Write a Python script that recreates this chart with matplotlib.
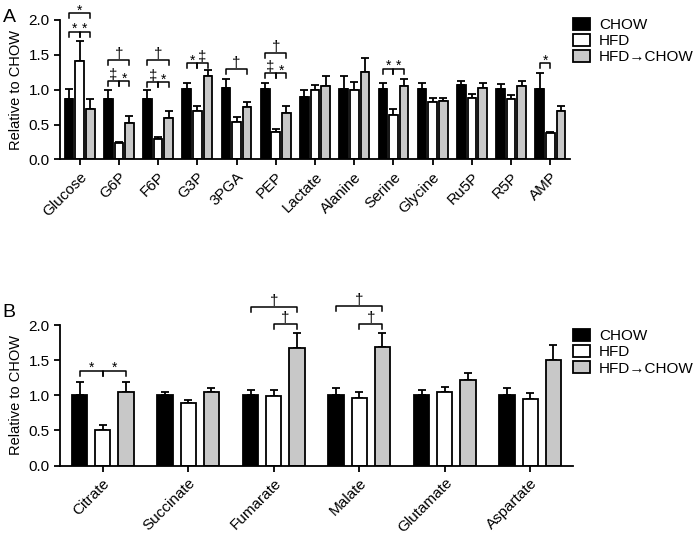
import matplotlib
matplotlib.use("Agg")
import matplotlib.pyplot as plt
from matplotlib.patches import Patch
import numpy as np

plt.rcParams['font.family'] = ['Liberation Sans', 'DejaVu Sans']
plt.rcParams['font.size'] = 11

groups = ['CHOW', 'HFD', 'HFD\u2192CHOW']
colors = ['black', 'white', '#c8c8c8']

# Panel A
metab_a = ['Glucose', 'G6P', 'F6P', 'G3P', '3PGA', 'PEP', 'Lactate', 'Alanine',
           'Serine', 'Glycine', 'Ru5P', 'R5P', 'AMP']
chow_a = [0.87, 0.87, 0.87, 1.01, 1.02, 1.01, 0.90, 1.01, 1.01, 1.01, 1.07, 1.01, 1.01]
chow_a_err = [0.14, 0.13, 0.12, 0.09, 0.13, 0.08, 0.10, 0.18, 0.09, 0.08, 0.05, 0.07, 0.23]
hfd_a = [1.41, 0.23, 0.30, 0.70, 0.54, 0.40, 0.99, 0.99, 0.64, 0.82, 0.88, 0.86, 0.38]
hfd_a_err = [0.29, 0.02, 0.02, 0.07, 0.07, 0.04, 0.08, 0.12, 0.09, 0.06, 0.06, 0.07, 0.01]
rev_a = [0.73, 0.53, 0.60, 1.20, 0.75, 0.67, 1.05, 1.25, 1.05, 0.84, 1.03, 1.06, 0.69]
rev_a_err = [0.14, 0.09, 0.09, 0.08, 0.07, 0.10, 0.14, 0.20, 0.11, 0.04, 0.07, 0.07, 0.08]
# (group, bar from, bar to, level, mark)
sig_a = [(0, 0, 2, 2.10, '*'), (0, 0, 1, 1.83, '*'), (0, 1, 2, 1.83, '*'),
         (1, 0, 2, 1.43, '\u2020'), (1, 0, 1, 1.12, '\u2021'), (1, 1, 2, 1.12, '*'),
         (2, 0, 2, 1.42, '\u2020'), (2, 0, 1, 1.11, '\u2021'), (2, 1, 2, 1.11, '*'),
         (3, 0, 1, 1.38, '*'), (3, 1, 2, 1.38, '\u2021'),
         (4, 0, 2, 1.30, '\u2020'),
         (5, 0, 2, 1.53, '\u2020'), (5, 0, 1, 1.24, '\u2021'), (5, 1, 2, 1.24, '*'),
         (8, 0, 1, 1.30, '*'), (8, 1, 2, 1.30, '*'),
         (12, 0, 1, 1.38, '*')]

# Panel B
metab_b = ['Citrate', 'Succinate', 'Fumarate', 'Malate', 'Glutamate', 'Aspartate']
chow_b = [1.01, 1.00, 1.00, 1.01, 1.00, 1.00]
chow_b_err = [0.18, 0.05, 0.08, 0.09, 0.08, 0.11]
hfd_b = [0.51, 0.89, 0.99, 0.96, 1.04, 0.95]
hfd_b_err = [0.06, 0.04, 0.09, 0.08, 0.08, 0.08]
rev_b = [1.05, 1.05, 1.67, 1.69, 1.22, 1.50]
rev_b_err = [0.14, 0.05, 0.21, 0.20, 0.10, 0.22]
sig_b = [(0, 0, 1, 1.35, '*'), (0, 1, 2, 1.35, '*'),
         (2, 0, 2, 2.25, '\u2020'), (2, 1, 2, 2.01, '\u2020'),
         (3, 0, 2, 2.27, '\u2020'), (3, 1, 2, 2.02, '\u2020')]


def draw_panel(ax, names, vals, errs, sigs, width, offs):
    x = np.arange(len(names))
    for k in range(3):
        ax.bar(x + offs[k], vals[k], width, color=colors[k], edgecolor='black',
               linewidth=1.3, zorder=2)
        ax.errorbar(x + offs[k], vals[k], yerr=[np.zeros(len(names)), errs[k]],
                    fmt='none', ecolor='black', elinewidth=1.3, capsize=3,
                    capthick=1.3, zorder=1)
    for g, i, j, y, s in sigs:
        x1 = g + offs[i]
        x2 = g + offs[j]
        h = 0.07
        ax.plot([x1, x1, x2, x2], [y - h, y, y, y - h], color='black', lw=1.1,
                clip_on=False)
        # the star glyph sits high, daggers sit on the baseline
        dy = -0.02 if s == '*' else 0.03
        ax.text((x1 + x2) / 2, y + dy, s, ha='center', va='baseline',
                fontsize=10 if s == '*' else 11)
    ax.set_xlim(-0.5, len(names) - 0.5)
    ax.set_ylim(0, 2.0)
    ax.set_yticks([0, 0.5, 1.0, 1.5, 2.0])
    ax.set_yticklabels(['0.0', '0.5', '1.0', '1.5', '2.0'])
    ax.set_xticks(x)
    ax.set_xticklabels(names, rotation=45, ha='right', rotation_mode='anchor')
    ax.spines['top'].set_visible(False)
    ax.spines['right'].set_visible(False)
    ax.spines['left'].set_linewidth(1.3)
    ax.spines['bottom'].set_linewidth(1.3)
    ax.tick_params(length=4, width=1.3, direction='out', labelsize=11)
    ax.set_ylabel('Relative to CHOW', fontsize=10.5)


fig = plt.figure(figsize=(6.97, 5.33), dpi=100)

ax1 = fig.add_axes([0.0861, 0.7008, 0.7317, 0.2617])
draw_panel(ax1, metab_a, [chow_a, hfd_a, rev_a], [chow_a_err, hfd_a_err, rev_a_err],
           sig_a, 0.22, [-0.27, 0, 0.27])

ax2 = fig.add_axes([0.0861, 0.1266, 0.736, 0.2636])
draw_panel(ax2, metab_b, [chow_b, hfd_b, rev_b], [chow_b_err, hfd_b_err, rev_b_err],
           sig_b, 0.18, [-0.27, 0, 0.27])

handles = [Patch(facecolor=c, edgecolor='black', linewidth=1.3) for c in colors]
for top in [0.967, 0.383]:
    fig.legend(handles, groups, loc='upper left', bbox_to_anchor=(0.822, top),
               frameon=False, borderpad=0, borderaxespad=0, handlelength=1.1,
               handleheight=0.85, handletextpad=0.6, labelspacing=0.12,
               fontsize=11)

fig.text(0.004, 1 - 22 / 533, 'A', fontsize=14, va='baseline')
fig.text(0.004, 1 - 317 / 533, 'B', fontsize=14, va='baseline')

fig.savefig('out.png', dpi=100)
